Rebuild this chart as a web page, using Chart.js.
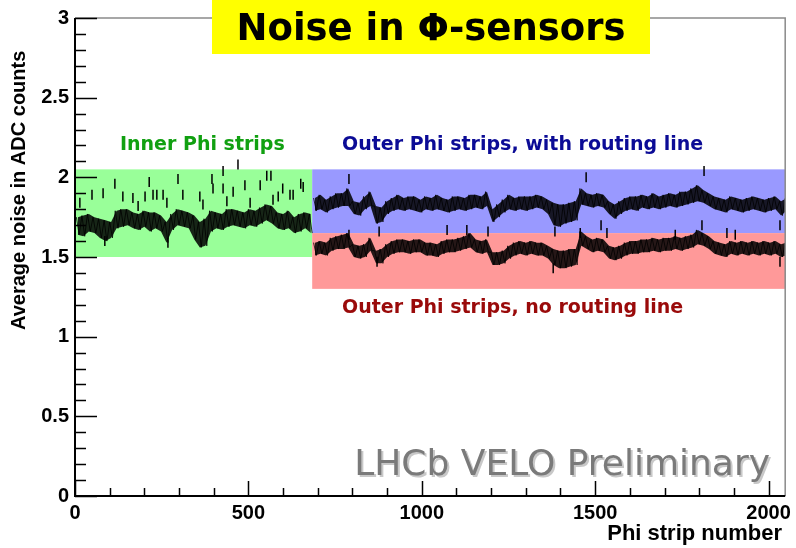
<!DOCTYPE html>
<html>
<head>
<meta charset="utf-8">
<script src="https://cdn.jsdelivr.net/npm/chart.js@4.4.1/dist/chart.umd.min.js"></script>
<style>
    html, body { margin: 0; padding: 0; background: #fff; }
    #wrap { width: 796px; height: 548px; }
</style>
</head>
<body>
<div id="wrap"><canvas id="noiseChart" width="796" height="548"></canvas></div>
<script>
// strips are read in bins of 16, value = band top (hi) and band bottom (lo)
const binWidth = 16;
const innerStart = 0;
const outerStart = 684;

const innerHi = [1.75,1.76,1.77,1.75,1.74,1.73,1.72,1.79,1.80,1.80,
    1.78,1.77,1.79,1.78,1.78,1.76,1.72,1.77,1.80,1.79,
    1.78,1.76,1.72,1.74,1.79,1.78,1.77,1.80,1.80,1.79,
    1.78,1.80,1.79,1.81,1.83,1.82,1.78,1.77,1.79,1.75,
    1.77,1.78,1.77];
const innerLo = [1.64,1.63,1.66,1.65,1.62,1.60,1.62,1.68,1.69,1.70,
    1.68,1.67,1.69,1.66,1.68,1.66,1.59,1.67,1.70,1.69,
    1.68,1.61,1.56,1.57,1.66,1.68,1.67,1.69,1.70,1.69,
    1.68,1.70,1.69,1.71,1.73,1.71,1.68,1.67,1.68,1.65,
    1.66,1.68,1.65];

const routedHi = [1.87,1.89,1.86,1.88,1.90,1.90,1.93,1.85,1.84,1.88,
    1.91,1.82,1.81,1.85,1.87,1.89,1.87,1.88,1.88,1.86,
    1.88,1.87,1.89,1.87,1.86,1.88,1.88,1.87,1.89,1.89,
    1.88,1.91,1.80,1.83,1.86,1.89,1.87,1.88,1.88,1.88,
    1.89,1.88,1.86,1.84,1.83,1.83,1.84,1.85,1.93,1.90,
    1.89,1.90,1.89,1.85,1.83,1.85,1.87,1.88,1.88,1.89,
    1.88,1.90,1.88,1.89,1.90,1.89,1.91,1.91,1.93,1.95,
    1.92,1.90,1.88,1.87,1.86,1.88,1.87,1.86,1.87,1.88,
    1.87,1.86,1.87,1.88,1.85,1.87];
const routedLo = [1.79,1.80,1.78,1.80,1.81,1.82,1.82,1.77,1.76,1.80,
    1.82,1.71,1.72,1.77,1.79,1.80,1.79,1.80,1.79,1.78,
    1.80,1.79,1.80,1.79,1.78,1.79,1.80,1.79,1.80,1.81,
    1.80,1.82,1.72,1.75,1.78,1.80,1.79,1.80,1.79,1.80,
    1.81,1.80,1.77,1.70,1.69,1.71,1.72,1.73,1.83,1.82,
    1.81,1.82,1.81,1.77,1.74,1.77,1.79,1.80,1.79,1.81,
    1.80,1.81,1.80,1.81,1.82,1.81,1.82,1.83,1.84,1.85,
    1.84,1.82,1.80,1.79,1.78,1.80,1.79,1.78,1.79,1.80,
    1.79,1.78,1.79,1.80,1.76,1.79];

const plainHi = [1.59,1.60,1.59,1.62,1.63,1.64,1.65,1.58,1.57,1.58,
    1.62,1.54,1.55,1.58,1.60,1.61,1.61,1.60,1.61,1.61,
    1.59,1.59,1.58,1.60,1.61,1.61,1.62,1.63,1.65,1.61,
    1.60,1.61,1.53,1.53,1.54,1.57,1.59,1.60,1.59,1.60,
    1.59,1.59,1.57,1.55,1.54,1.54,1.55,1.55,1.66,1.63,
    1.61,1.62,1.61,1.57,1.56,1.57,1.59,1.60,1.60,1.61,
    1.61,1.62,1.61,1.62,1.62,1.63,1.62,1.63,1.64,1.67,
    1.65,1.63,1.60,1.59,1.58,1.60,1.59,1.60,1.59,1.60,
    1.59,1.60,1.59,1.60,1.58,1.59];
const plainLo = [1.51,1.52,1.51,1.54,1.55,1.55,1.56,1.50,1.49,1.50,
    1.54,1.46,1.46,1.50,1.52,1.53,1.53,1.52,1.53,1.53,
    1.51,1.51,1.50,1.52,1.53,1.53,1.54,1.55,1.56,1.53,
    1.52,1.53,1.45,1.45,1.46,1.49,1.51,1.52,1.51,1.52,
    1.51,1.51,1.49,1.45,1.43,1.43,1.44,1.45,1.57,1.55,
    1.53,1.54,1.53,1.49,1.48,1.49,1.51,1.52,1.52,1.53,
    1.53,1.54,1.53,1.54,1.54,1.55,1.54,1.55,1.56,1.58,
    1.57,1.55,1.52,1.51,1.50,1.52,1.51,1.52,1.51,1.52,
    1.51,1.52,1.51,1.52,1.50,1.51];

// single noisy strips sticking out of the bands
const spikeStrips = [14,49,81,86,115,138,167,182,202,214,225,236,254,265,268,297,311,360,369,395,398,427,427,438,456,470,490,505,534,553,565,571,586,599,620,629,651,658,
    790,1474,1814,877,1191,1384,1517,2033,790,1073,1130,1457,1534,1731,1808,1880,1904,2033,1379,871];
const spikeValues = [1.84,1.89,1.90,1.60,1.96,1.88,1.87,1.82,1.88,1.97,1.89,1.89,1.89,1.84,1.59,1.99,1.89,1.88,1.83,1.99,1.93,2.04,1.93,1.85,1.91,2.08,1.95,1.84,1.95,2.01,2.01,1.86,1.88,1.93,1.89,1.89,1.96,1.94,
    1.99,2.00,2.04,1.66,1.66,1.66,1.70,1.70,1.64,1.67,1.67,1.65,1.65,1.64,1.70,1.65,1.64,1.47,1.43,1.47];

const xTicks = [0, 500, 1000, 1500, 2000];
const yTicks = [0, 0.5, 1, 1.5, 2, 2.5, 3];

const regionBoxes = [
    { x0: 0, x1: 684, y0: 1.5, y1: 2.05, color: "#99ff99" },
    { x0: 684, x1: 2048, y0: 1.65, y1: 2.05, color: "#9999ff" },
    { x0: 684, x1: 2048, y0: 1.3, y1: 1.65, color: "#ff9999" },
];

function zigzag(start, hi, lo) {
    const pts = [];
    hi.forEach((h, i) => {
        pts.push({ x: start + binWidth * i + 4, y: h });
        pts.push({ x: start + binWidth * i + 12, y: lo[i] });
    });
    return pts;
}

function edge(start, vals) {
    return vals.map((v, i) => ({ x: start + binWidth * i + 8, y: v }));
}

function bandDatasets(start, hi, lo) {
    return [
        { data: edge(start, hi), borderWidth: 0, pointRadius: 0, fill: "+1", backgroundColor: "rgba(0,0,0,0.85)" },
        { data: edge(start, lo), borderWidth: 0, pointRadius: 0, fill: false },
        { data: zigzag(start, hi, lo), borderWidth: 0.8, borderColor: "#000", pointRadius: 0, fill: false },
    ];
}

const spikePoints = spikeStrips.map((s, i) => ({ x: s, y: spikeValues[i] }));

// boxes behind the data, frame and texts on top
const rootStyle = {
    id: "rootStyle",
    beforeDatasetsDraw(chart) {
        const { ctx, scales: { x, y } } = chart;
        ctx.save();
        regionBoxes.forEach((b) => {
            const l = x.getPixelForValue(b.x0), r = x.getPixelForValue(b.x1);
            const t = y.getPixelForValue(b.y1), btm = y.getPixelForValue(b.y0);
            ctx.fillStyle = b.color;
            ctx.fillRect(l, t, r - l, btm - t);
        });
        ctx.restore();
    },
    afterDraw(chart) {
        const { ctx, chartArea: a, scales: { x, y } } = chart;
        ctx.save();

        // grey top/right frame
        ctx.strokeStyle = "#8a8a8a";
        ctx.lineWidth = 1.5;
        ctx.beginPath();
        ctx.moveTo(a.left, a.top); ctx.lineTo(a.right, a.top); ctx.lineTo(a.right, a.bottom);
        ctx.stroke();

        // black axes
        ctx.strokeStyle = "#000";
        ctx.lineWidth = 2;
        ctx.beginPath();
        ctx.moveTo(a.left, a.top); ctx.lineTo(a.left, a.bottom); ctx.lineTo(a.right, a.bottom);
        ctx.stroke();

        // ticks point inwards, ROOT style
        ctx.lineWidth = 1.5;
        ctx.beginPath();
        for (let v = 0; v <= 2000; v += 100) {
            const px = Math.round(x.getPixelForValue(v)) + 0.5;
            const len = v % 500 === 0 ? 15 : 8;
            ctx.moveTo(px, a.bottom); ctx.lineTo(px, a.bottom - len);
        }
        for (let k = 0; k <= 30; k++) {
            const py = Math.round(y.getPixelForValue(k / 10)) + 0.5;
            const len = k % 5 === 0 ? 22 : 11;
            ctx.moveTo(a.left, py); ctx.lineTo(a.left + len, py);
        }
        ctx.stroke();

        // region labels
        ctx.textBaseline = "alphabetic";
        ctx.textAlign = "left";
        ctx.font = "bold 19px 'DejaVu Sans'";
        ctx.fillStyle = "#11a011";
        ctx.fillText("Inner Phi strips", 120, 150);
        ctx.fillStyle = "#0b0b96";
        ctx.fillText("Outer Phi strips, with routing line", 342, 150);
        ctx.fillStyle = "#9a0a0a";
        ctx.fillText("Outer Phi strips, no routing line", 342, 313);

        // axis titles
        ctx.fillStyle = "#000";
        ctx.font = "bold 22px 'Liberation Sans'";
        ctx.textAlign = "right";
        ctx.fillText("Phi strip number", 782, 540);

        ctx.save();
        ctx.translate(25, 330);
        ctx.rotate(-Math.PI / 2);
        ctx.textAlign = "left";
        ctx.font = "bold 20px 'Liberation Sans'";
        ctx.fillText("Average noise in ADC counts", 0, 0);
        ctx.restore();

        // preliminary stamp
        ctx.font = "36px 'DejaVu Sans'";
        ctx.textAlign = "right";
        ctx.fillStyle = "#c8c8c8";
        ctx.fillText("LHCb VELO Preliminary", 772, 477);
        ctx.fillStyle = "#7a7a7a";
        ctx.fillText("LHCb VELO Preliminary", 770, 475);

        // title box
        ctx.fillStyle = "#ffff00";
        ctx.fillRect(212, 0, 438, 54);
        ctx.fillStyle = "#000";
        ctx.font = "bold 37px 'DejaVu Sans'";
        ctx.textAlign = "center";
        ctx.fillText("Noise in \u03a6-sensors", 431, 40);

        ctx.restore();
    },
};

const tickFont = { family: "'Liberation Sans'", weight: "bold", size: 20 };

new Chart(document.getElementById("noiseChart").getContext("2d"), {
    type: "line",
    data: {
        datasets: [
            ...bandDatasets(innerStart, innerHi, innerLo),
            ...bandDatasets(outerStart, routedHi, routedLo),
            ...bandDatasets(outerStart, plainHi, plainLo),
            {
                data: spikePoints,
                showLine: false,
                pointStyle: "line",
                rotation: 90,
                pointRadius: 5,
                pointBorderWidth: 1.5,
                pointBorderColor: "#000",
                pointBackgroundColor: "#000",
            },
        ],
    },
    options: {
        responsive: false,
        animation: false,
        layout: { padding: { top: 13, right: 9, left: 0, bottom: 0 } },
        plugins: { legend: { display: false }, tooltip: { enabled: false } },
        scales: {
            x: {
                type: "linear",
                min: 0,
                max: 2048,
                grid: { display: false, drawTicks: false },
                border: { display: false },
                ticks: { font: tickFont, color: "#000", padding: 5, maxRotation: 0, autoSkip: false, callback: (v) => String(v) },
                afterBuildTicks: (s) => { s.ticks = xTicks.map((v) => ({ value: v })); },
                afterFit: (s) => { s.height = 52; },
            },
            y: {
                type: "linear",
                min: 0,
                max: 3,
                grid: { display: false, drawTicks: false },
                border: { display: false },
                ticks: { font: tickFont, color: "#000", padding: 6, autoSkip: false, callback: (v) => String(v) },
                afterBuildTicks: (s) => { s.ticks = yTicks.map((v) => ({ value: v })); },
                afterFit: (s) => { s.width = 75; },
            },
        },
    },
    plugins: [rootStyle],
});
</script>
</body>
</html>
